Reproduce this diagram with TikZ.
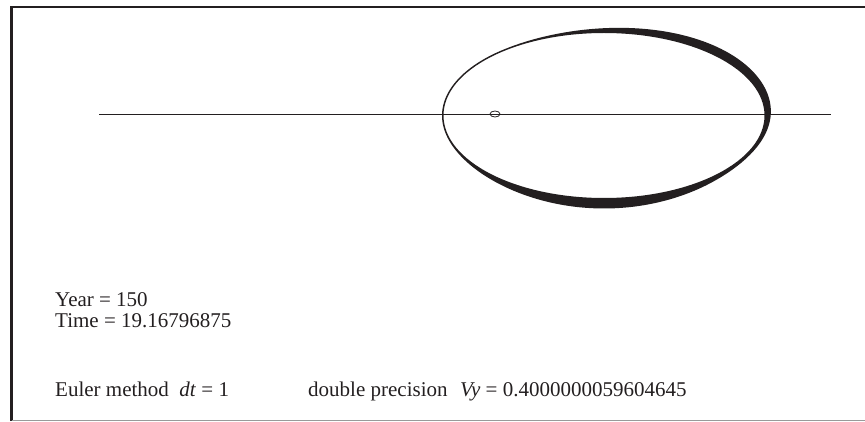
\documentclass[tikz,border=0pt]{standalone}
\usepackage{fontspec}
\setmainfont{Liberation Serif}
\usepackage{xcolor}
\usepackage{tikz}
\usetikzlibrary{positioning}
\definecolor{inkc}{HTML}{231F20}
\definecolor{rulec}{HTML}{9A9A9A}
\tikzset{
  frame/.style={inkc,line width=2.2pt},
  axisline/.style={inkc,line width=0.9pt},
  lbl/.style={anchor=base west,inner sep=0pt,font=\fontsize{21}{24}\selectfont,inkc}
}
\begin{document}
\begin{tikzpicture}[x=1pt,y=1pt,
  declare function={ca(\p)=max(0,cos(\p-40)); cb(\p)=max(0,cos(\p+90));
    tk(\p)=1.5+8*ca(\p)*ca(\p)+9*cb(\p)*cb(\p)*cb(\p);}]
\useasboundingbox (0,0) rectangle (865,421);
\draw[frame] (11.5,0) |- (865,414);
\draw[rulec,line width=1pt] (11.5,0.5) -- (865,0.5);
\draw[axisline] (99,307) -- (831,307);
% orbit, many turns drifting outward
\fill[inkc,even odd rule] plot[domain=0:360,samples=241,smooth]
  ({604+(160.5+tk(\x))*cos(\x)},{305.5+(82.5+tk(\x))*sin(\x)}) -- cycle
  (604,305.5) ellipse (160.5 and 82.5);
\draw[inkc,line width=0.8pt] (495,307) ellipse (5 and 3);
\node[lbl] (year) at (55,115) {Year = 150};
\node[lbl] (time) at (55,94) {Time = 19.16796875};
\node[lbl] (euler) at (55,25) {Euler method\enspace\textit{dt} = 1};
\node[lbl] (prec) at (308,25) {double precision\hspace{0.6em}\textit{Vy} = 0.4000000059604645};
\end{tikzpicture}
\end{document}
